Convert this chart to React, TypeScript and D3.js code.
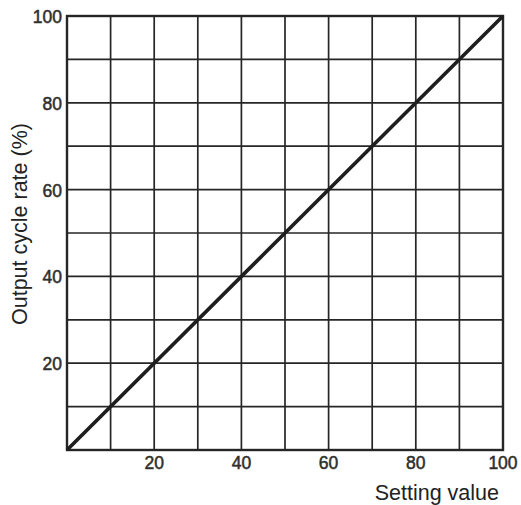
import { useRef, useEffect } from "react";
import * as d3 from "d3";

// setting value (%) -> output cycle rate (%)
const settingValues = [0, 100];
const outputRates = [0, 100];
const gridTicks = [0, 10, 20, 30, 40, 50, 60, 70, 80, 90, 100];
const labelTicks = [20, 40, 60, 80, 100];
const xTitle = "Setting value";
const yTitle = "Output cycle rate (%)";

const W = 521;
const H = 505;

export default function App() {
  const svgRef = useRef<SVGSVGElement>(null);

  useEffect(() => {
    if (!svgRef.current) return;
    const svg = d3.select(svgRef.current);
    svg.selectAll("*").remove();

    const margin = { top: 16, right: 18, bottom: 55, left: 67 };
    const w = W - margin.left - margin.right;
    const h = H - margin.top - margin.bottom;
    const ink = "#262626";
    const font = "'Liberation Sans', Arial, Helvetica, sans-serif";

    svg.append("rect").attr("width", W).attr("height", H).attr("fill", "#fff");

    const g = svg.append("g").attr("transform", `translate(${margin.left},${margin.top})`);

    const x = d3.scaleLinear().domain([0, 100]).range([0, w]);
    const y = d3.scaleLinear().domain([0, 100]).range([h, 0]);

    // grid
    g.selectAll("line.vx")
      .data(gridTicks)
      .join("line")
      .attr("class", "vx")
      .attr("x1", (d) => x(d)).attr("x2", (d) => x(d))
      .attr("y1", 0).attr("y2", h)
      .attr("stroke", ink).attr("stroke-width", 1.7);
    g.selectAll("line.hy")
      .data(gridTicks)
      .join("line")
      .attr("class", "hy")
      .attr("y1", (d) => y(d)).attr("y2", (d) => y(d))
      .attr("x1", 0).attr("x2", w)
      .attr("stroke", ink).attr("stroke-width", 1.7);

    // frame
    g.append("rect")
      .attr("width", w).attr("height", h)
      .attr("fill", "none")
      .attr("stroke", ink).attr("stroke-width", 2.4);

    // characteristic line
    const pts = settingValues.map((s, i) => [s, outputRates[i]] as [number, number]);
    g.append("path")
      .datum(pts)
      .attr("d", d3.line().x((d) => x(d[0])).y((d) => y(d[1])))
      .attr("fill", "none")
      .attr("stroke", "#1e1e1e")
      .attr("stroke-width", 3.6);

    // tick labels
    g.selectAll("text.xl")
      .data(labelTicks)
      .join("text")
      .attr("class", "xl")
      .attr("x", (d) => x(d))
      .attr("y", h + 19)
      .attr("text-anchor", "middle")
      .attr("fill", "#2e2e2e").attr("stroke", "#2e2e2e").attr("stroke-width", 0.5)
      .style("font-family", font).style("font-size", "17.5px")
      .text((d) => d);
    g.selectAll("text.yl")
      .data(labelTicks)
      .join("text")
      .attr("class", "yl")
      .attr("x", -5)
      .attr("y", (d) => y(d) + 7)
      .attr("text-anchor", "end")
      .attr("fill", "#2e2e2e").attr("stroke", "#2e2e2e").attr("stroke-width", 0.5)
      .style("font-family", font).style("font-size", "17.5px")
      .text((d) => d);

    // axis titles
    svg.append("text")
      .attr("x", 499).attr("y", 500)
      .attr("text-anchor", "end")
      .attr("fill", "#222")
      .style("font-family", font).style("font-size", "21.5px")
      .text(xTitle);
    svg.append("text")
      .attr("transform", "translate(27,325) rotate(-90)")
      .attr("text-anchor", "start")
      .attr("fill", "#222")
      .style("font-family", font).style("font-size", "21.5px")
      .text(yTitle);
  }, []);

  return (
    <svg
      ref={svgRef}
      width={W}
      height={H}
      style={{ position: "absolute", left: 0, top: 0 }}
    />
  );
}
